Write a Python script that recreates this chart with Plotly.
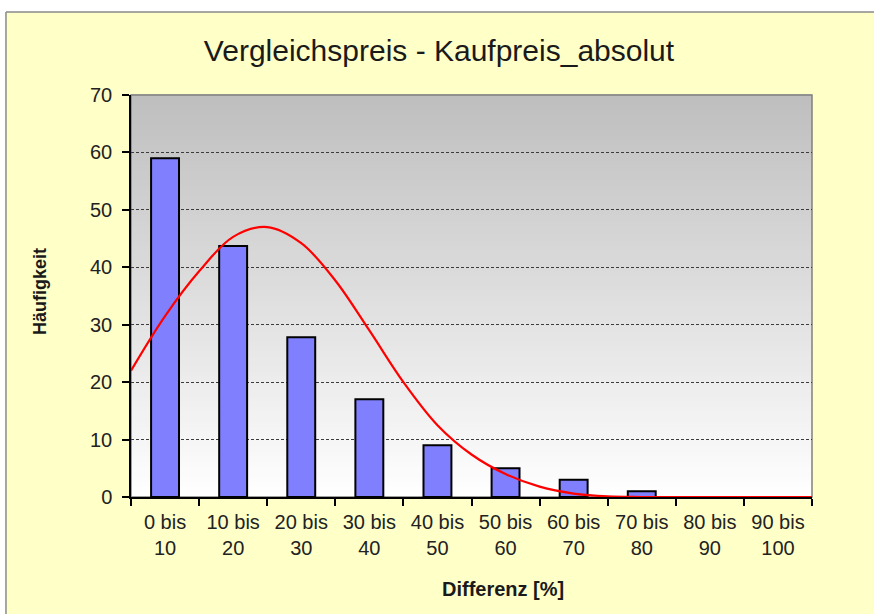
import plotly.graph_objects as go

# data
categories = ["0 bis<br>10", "10 bis<br>20", "20 bis<br>30", "30 bis<br>40", "40 bis<br>50",
              "50 bis<br>60", "60 bis<br>70", "70 bis<br>80", "80 bis<br>90", "90 bis<br>100"]
counts = [59, 43.7, 27.8, 17, 9, 5, 3, 1, 0, 0]

# red fitted curve (x in category units, centres at 0..9)
curve_x = [-0.5, 0, 0.5, 1, 1.5, 2, 2.5, 3, 3.5, 4, 4.5, 5, 5.5, 6, 6.5, 7, 8, 9, 9.5]
curve_y = [22, 31.5, 39.3, 45.3, 47, 44.2, 37.7, 29, 20, 12.5, 7.4, 4, 1.8, 0.6, 0.1, 0, 0, 0, 0]

YELLOW = "#FFFFC8"
FONT = "Liberation Sans, Arial, sans-serif"

fig = go.Figure()

fig.add_trace(go.Bar(
    x=list(range(len(counts))),
    y=counts,
    marker=dict(color="#8080FF", line=dict(color="black", width=2)),
    width=0.41,
))

fig.add_trace(go.Scatter(
    x=curve_x,
    y=curve_y,
    mode="lines",
    line=dict(color="#FF0000", width=2.2, shape="spline"),
    cliponaxis=False,
))

shapes = []
# white strips above and left of the yellow chart frame (frame starts at x=6, y=12)
shapes.append(dict(type="rect", xref="paper", yref="paper", x0=-0.3, x1=1.3, y0=1.2065, y1=1.4,
                   fillcolor="white", line=dict(width=0), layer="below"))
shapes.append(dict(type="rect", xref="paper", yref="paper", x0=-0.3, x1=-0.1836, y0=-0.4, y1=1.4,
                   fillcolor="white", line=dict(width=0), layer="below"))
shapes.append(dict(type="line", xref="paper", yref="paper", x0=-0.1836, x1=1.3, y0=1.2065, y1=1.2065,
                   line=dict(color="#8a8a8a", width=1.5), layer="below"))
shapes.append(dict(type="line", xref="paper", yref="paper", x0=-0.1836, x1=-0.1836, y0=-0.4, y1=1.2065,
                   line=dict(color="#8a8a8a", width=1.5), layer="below"))
# grey-to-white gradient of the plot area
n = 80
for i in range(n):
    t = (i + 0.5) / n
    g = int(round(255 - (255 - 190) * t))
    shapes.append(dict(type="rect", xref="paper", yref="paper",
                       x0=0, x1=1, y0=i / n, y1=(i + 1) / n + 0.002,
                       fillcolor=f"rgb({g},{g},{g})", line=dict(width=0), layer="below"))
shapes.append(dict(type="rect", xref="paper", yref="paper", x0=0, x1=1, y0=0, y1=1,
                   line=dict(color="#808080", width=1.5), layer="below"))

fig.update_layout(
    width=874, height=614,
    margin=dict(l=131, r=62, t=95, b=117),
    paper_bgcolor=YELLOW,
    plot_bgcolor="rgba(0,0,0,0)",
    showlegend=False,
    bargap=0.59,
    shapes=shapes,
    font=dict(family=FONT, color="#222222"),
    title=dict(text="Vergleichspreis - Kaufpreis_absolut", x=439 / 874, xref="container",
               xanchor="center", y=1 - 50 / 614, yanchor="middle",
               font=dict(size=30, color="#1a1a1a", family=FONT)),
    annotations=[
        dict(text="<b>Häufigkeit</b>", xref="paper", yref="paper", x=-0.134, y=0.512,
             xanchor="center", yanchor="middle",
             textangle=-90, showarrow=False, font=dict(size=18, color="#1a1a1a")),
        dict(text="<b>Differenz [%]</b>", xref="paper", yref="paper", x=0.546, y=-0.229,
             xanchor="center", yanchor="middle",
             showarrow=False, font=dict(size=20, color="#1a1a1a")),
    ],
)

fig.update_xaxes(
    range=[-0.5, 9.5],
    tickmode="array", tickvals=list(range(len(categories))), ticktext=categories,
    ticks="", showgrid=False, zeroline=False,
    showline=True, linecolor="black", linewidth=1.5,
    tickfont=dict(size=20, color="#222222"),
    ticklabelstandoff=6,
    minor=dict(tickmode="linear", tick0=-0.5, dtick=1, ticks="outside",
               ticklen=7, tickcolor="black", tickwidth=1.5, showgrid=False),
    layer="below traces",
)
fig.update_yaxes(
    range=[0, 70], dtick=10,
    ticks="outside", ticklen=7, tickcolor="black", tickwidth=1.5,
    showline=True, linecolor="black", linewidth=1.5,
    showgrid=True, gridcolor="#3c3c3c", gridwidth=1, griddash="3px,2px",
    zeroline=False,
    tickfont=dict(size=20, color="#222222"),
    ticklabelstandoff=6,
    layer="below traces",
)

# drop the default page margin and scrollbars so the figure sits at the window origin
fig.write_html("out.html",
               config={"displayModeBar": False},
               post_script=("document.documentElement.style.overflow='hidden';"
                            "document.body.style.margin='0';document.body.style.overflow='hidden';"
                            f"document.body.style.background='{YELLOW}';"))
